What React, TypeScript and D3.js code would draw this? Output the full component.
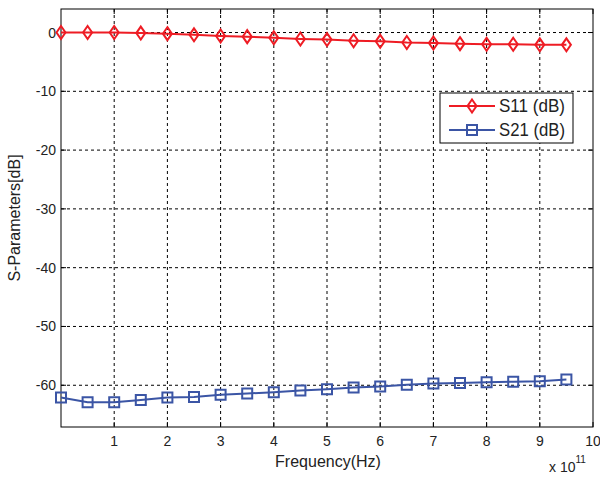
import React, { useRef, useEffect } from 'react';
import * as d3 from 'd3';

// frequency in units of 1e11 Hz
const freq = [0, 0.5, 1, 1.5, 2, 2.5, 3, 3.5, 4, 4.5, 5, 5.5, 6, 6.5, 7, 7.5, 8, 8.5, 9, 9.5];
const s11 = [0, 0, 0, -0.1, -0.2, -0.4, -0.6, -0.7, -0.9, -1.1, -1.2, -1.4, -1.5, -1.7, -1.8, -1.9, -2.0, -2.0, -2.1, -2.1];
const s21 = [-62.1, -62.9, -62.9, -62.5, -62.1, -62.0, -61.6, -61.4, -61.2, -60.9, -60.7, -60.4, -60.2, -59.9, -59.7, -59.6, -59.5, -59.4, -59.3, -59.0];
const xTicks = [1, 2, 3, 4, 5, 6, 7, 8, 9, 10];
const yTicks = [0, -10, -20, -30, -40, -50, -60];
const seriesNames = ['S11 (dB)', 'S21 (dB)'];

const App = () => {
    const svgRef = useRef<SVGSVGElement>(null);

    useEffect(() => {
        const svg = d3.select(svgRef.current);
        svg.selectAll('*').remove();

        const margin = { top: 9, right: 7, bottom: 50, left: 61 };
        const W = 600, H = 477;
        const width = W - margin.left - margin.right;
        const height = H - margin.top - margin.bottom;
        const font = 'Liberation Sans, Arial, sans-serif';

        const x = d3.scaleLinear().domain([0, 10]).range([0, width]);
        const y = d3.scaleLinear().domain([-67.1, 4]).range([height, 0]);

        const g = svg.append('g').attr('transform', `translate(${margin.left},${margin.top})`);

        g.append('rect').attr('width', width).attr('height', height).attr('fill', '#fff');

        // grid
        g.selectAll('.vgrid').data(xTicks.slice(0, -1)).join('line')
            .attr('x1', d => x(d)).attr('x2', d => x(d))
            .attr('y1', 0).attr('y2', height)
            .attr('stroke', '#000').attr('stroke-width', 1).attr('stroke-dasharray', '3,3');
        g.selectAll('.hgrid').data(yTicks).join('line')
            .attr('x1', 0).attr('x2', width)
            .attr('y1', d => y(d)).attr('y2', d => y(d))
            .attr('stroke', '#000').attr('stroke-width', 1).attr('stroke-dasharray', '3,3');

        // axes box
        g.append('rect').attr('width', width).attr('height', height)
            .attr('fill', 'none').attr('stroke', '#000').attr('stroke-width', 1);

        // ticks
        g.selectAll('.xt').data(xTicks).join('line')
            .attr('x1', d => x(d)).attr('x2', d => x(d))
            .attr('y1', height).attr('y2', height - 5).attr('stroke', '#000');
        g.selectAll('.xtt').data(xTicks).join('line')
            .attr('x1', d => x(d)).attr('x2', d => x(d))
            .attr('y1', 0).attr('y2', 5).attr('stroke', '#000');
        g.selectAll('.yt').data(yTicks).join('line')
            .attr('x1', 0).attr('x2', 5)
            .attr('y1', d => y(d)).attr('y2', d => y(d)).attr('stroke', '#000');
        g.selectAll('.ytr').data(yTicks).join('line')
            .attr('x1', width - 5).attr('x2', width)
            .attr('y1', d => y(d)).attr('y2', d => y(d)).attr('stroke', '#000');

        g.selectAll('.xl').data(xTicks).join('text')
            .attr('x', d => x(d)).attr('y', height + 19)
            .attr('text-anchor', 'middle').attr('font-family', font).attr('font-size', 14)
            .attr('fill', '#222').text(d => d);
        g.selectAll('.yl').data(yTicks).join('text')
            .attr('x', -5).attr('y', d => y(d) + 5)
            .attr('text-anchor', 'end').attr('font-family', font).attr('font-size', 14)
            .attr('fill', '#222').text(d => d);

        // axis titles
        svg.append('text').attr('x', margin.left + width / 2 + 1).attr('y', 467)
            .attr('text-anchor', 'middle').attr('font-family', font).attr('font-size', 16)
            .attr('fill', '#222').text('Frequency(Hz)');
        svg.append('text').attr('transform', `translate(20,${margin.top + height / 2}) rotate(-90)`)
            .attr('text-anchor', 'middle').attr('font-family', font).attr('font-size', 16)
            .attr('fill', '#222').text('S-Parameters[dB]');
        const ex = svg.append('text').attr('x', 549).attr('y', 472)
            .attr('font-family', font).attr('font-size', 14).attr('fill', '#222');
        ex.append('tspan').text('x 10');
        ex.append('tspan').attr('font-size', 10).attr('dy', -9).text('11');

        const red = '#ee1c24';
        const blue = '#3b55a5';
        const diamond = (cx: number, cy: number) =>
            `M${cx},${cy - 6.5}L${cx + 4.5},${cy}L${cx},${cy + 6.5}L${cx - 4.5},${cy}Z`;
        const square = (cx: number, cy: number) =>
            `M${cx - 5},${cy - 5}h10v10h-10Z`;

        const line = d3.line<number>().x((d, i) => x(freq[i]));

        const series = [
            { vals: s11, color: red, marker: diamond },
            { vals: s21, color: blue, marker: square },
        ];

        series.forEach(s => {
            g.append('path').datum(s.vals)
                .attr('d', line.y(d => y(d))(s.vals))
                .attr('fill', 'none').attr('stroke', s.color).attr('stroke-width', 2);
            g.selectAll(null).data(s.vals).join('path')
                .attr('d', (d, i) => s.marker(x(freq[i]), y(d)))
                .attr('fill', 'none').attr('stroke', s.color).attr('stroke-width', 2);
        });

        // legend
        const lg = svg.append('g').attr('transform', 'translate(440,93)');
        lg.append('rect').attr('width', 133).attr('height', 50)
            .attr('fill', '#fff').attr('stroke', '#000').attr('stroke-width', 1);
        series.forEach((s, i) => {
            const ly = 13 + i * 24;
            lg.append('line').attr('x1', 9).attr('x2', 55).attr('y1', ly).attr('y2', ly)
                .attr('stroke', s.color).attr('stroke-width', 2);
            lg.append('path').attr('d', s.marker(32, ly))
                .attr('fill', 'none').attr('stroke', s.color).attr('stroke-width', 2);
            lg.append('text').attr('x', 59).attr('y', ly + 6)
                .attr('font-family', font).attr('font-size', 18).attr('fill', '#222')
                .attr('textLength', 66).attr('lengthAdjust', 'spacingAndGlyphs')
                .text(seriesNames[i]);
        });
    }, []);

    return (
        <svg ref={svgRef} width="600" height="477" style={{ position: 'absolute', left: 0, top: 0 }}></svg>
    );
};

export default App;
